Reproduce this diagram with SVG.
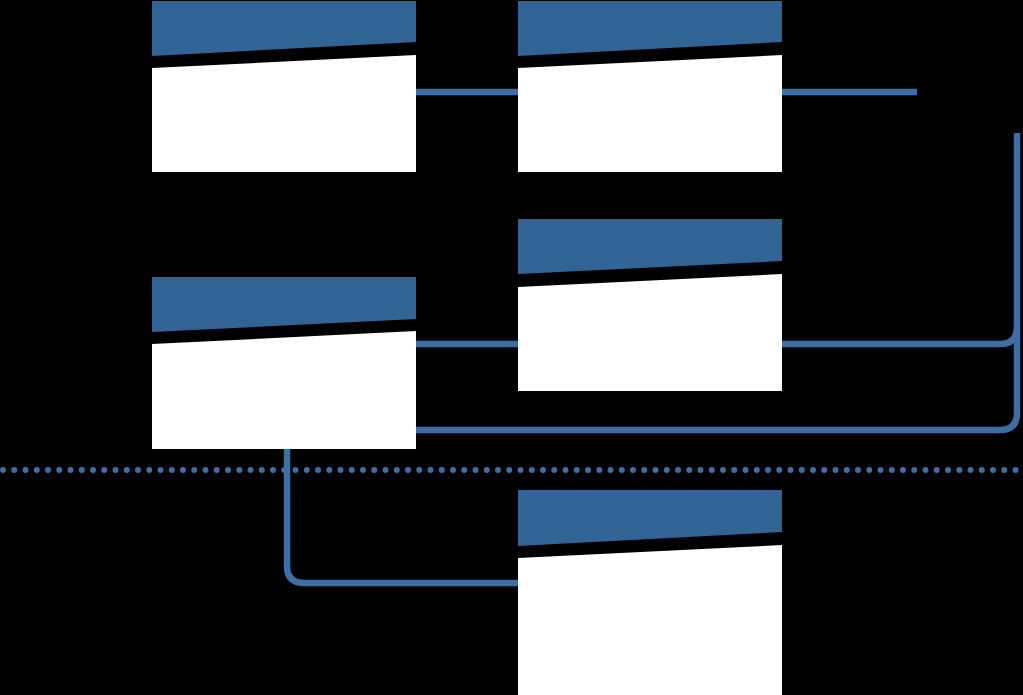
<svg xmlns="http://www.w3.org/2000/svg" width="1023" height="695" viewBox="0 0 1023 695">
<style>
.hdr{fill:#316395}
.body{fill:#ffffff}
.conn{fill:none;stroke:#3d6ea6;stroke-width:6.5}
.sep{fill:none;stroke:#3d6ea6;stroke-width:6;stroke-linecap:round;stroke-dasharray:0 11.25}
</style>
<rect width="1023" height="695" fill="#000000"/>
<g id="connectors">
<path class="conn" d="M416 92 H518"/>
<path class="conn" d="M782 92 H917"/>
<path class="conn" d="M416 344 H518"/>
<path class="conn" d="M782 344 H1000 Q1017 344 1017 327"/>
<path class="conn" d="M1017 133 V413 Q1017 430 1000 430 H416"/>
<path class="conn" d="M287 449 V566 Q287 583 304 583 H518"/>
<path class="sep" d="M3 470 H1023"/>
</g>
<g id="node1">
<polygon class="hdr" points="152,1 416,1 416,42 152,56"/>
<polygon class="body" points="152,68 416,55 416,172 152,172"/>
</g>
<g id="node2">
<polygon class="hdr" points="518,1 782,1 782,42 518,56"/>
<polygon class="body" points="518,68 782,55 782,172 518,172"/>
</g>
<g id="node3">
<polygon class="hdr" points="518,219 782,219 782,261 518,274"/>
<polygon class="body" points="518,287 782,274 782,391 518,391"/>
</g>
<g id="node4">
<polygon class="hdr" points="152,277 416,277 416,319 152,332"/>
<polygon class="body" points="152,344 416,331 416,449 152,449"/>
</g>
<g id="node5">
<polygon class="hdr" points="518,490 782,490 782,532 518,546"/>
<polygon class="body" points="518,558 782,545 782,695 518,695"/>
</g>
</svg>
